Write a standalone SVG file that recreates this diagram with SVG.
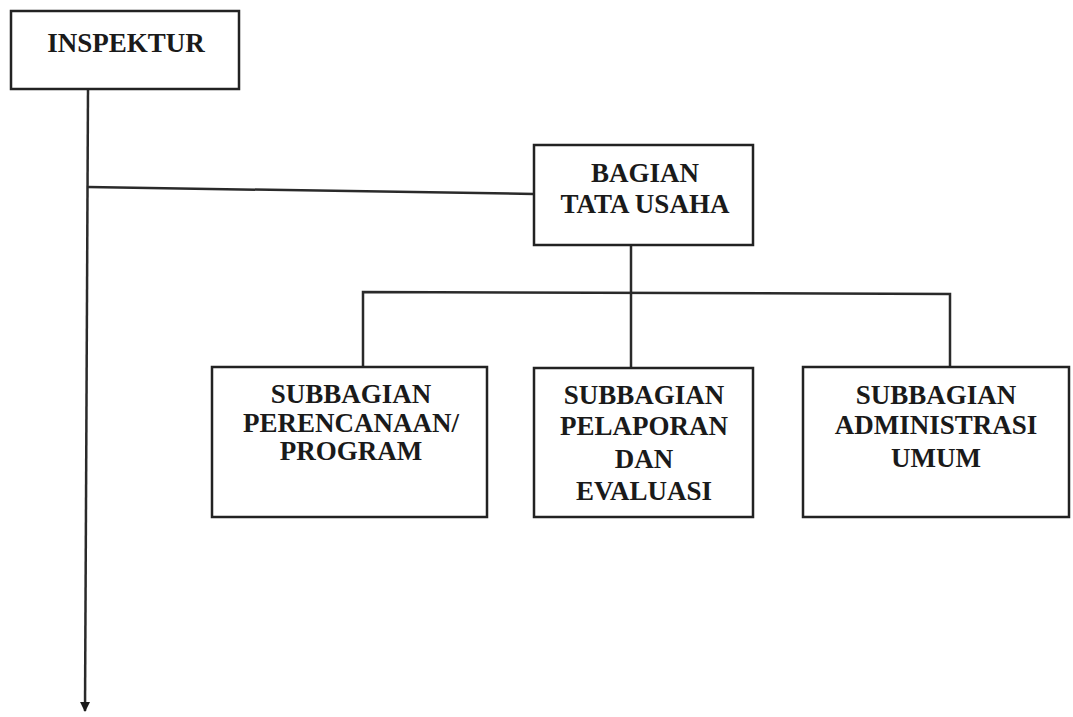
<svg xmlns="http://www.w3.org/2000/svg" width="1073" height="717" viewBox="0 0 1073 717">
<style>
.box{fill:#fff;stroke:#222;stroke-width:2.5}
.ln{fill:none;stroke:#2a2a2a;stroke-width:2.5}
text{font-family:"Liberation Serif","Times New Roman",serif;font-weight:bold;font-size:27px;fill:#1a1a1a;text-anchor:middle}
</style>
<defs>
<marker id="arr" viewBox="0 0 10 10" refX="9" refY="5" markerWidth="4" markerHeight="4" orient="auto" markerUnits="strokeWidth">
<path d="M0,0 L10,5 L0,10 Z" fill="#1a1a1a"/>
</marker>
</defs>
<rect width="1073" height="717" fill="#fff"/>
<g id="connectors">
<path class="ln" d="M88,89 L85,711" marker-end="url(#arr)"/>
<path class="ln" d="M88,187 L534,194"/>
<path class="ln" d="M631,245 L631,368"/>
<path class="ln" d="M363,367 L363,292 L950,294 L950,367"/>
</g>
<g id="inspektur">
<rect class="box" x="11" y="11" width="228" height="78"/>
<text x="126" y="52">INSPEKTUR</text>
</g>
<g id="bagian-tata-usaha">
<rect class="box" x="534" y="145" width="219" height="100"/>
<text x="645" y="182">BAGIAN</text>
<text x="645" y="213">TATA USAHA</text>
</g>
<g id="subbagian-perencanaan">
<rect class="box" x="212" y="367" width="275" height="150"/>
<text x="351" y="403">SUBBAGIAN</text>
<text x="351" y="432">PERENCANAAN/</text>
<text x="351" y="460">PROGRAM</text>
</g>
<g id="subbagian-pelaporan">
<rect class="box" x="534" y="368" width="219" height="149"/>
<text x="644" y="404">SUBBAGIAN</text>
<text x="644" y="435">PELAPORAN</text>
<text x="644" y="468">DAN</text>
<text x="644" y="500">EVALUASI</text>
</g>
<g id="subbagian-administrasi">
<rect class="box" x="803" y="367" width="266" height="150"/>
<text x="936" y="404">SUBBAGIAN</text>
<text x="936" y="434">ADMINISTRASI</text>
<text x="936" y="467">UMUM</text>
</g>
</svg>
